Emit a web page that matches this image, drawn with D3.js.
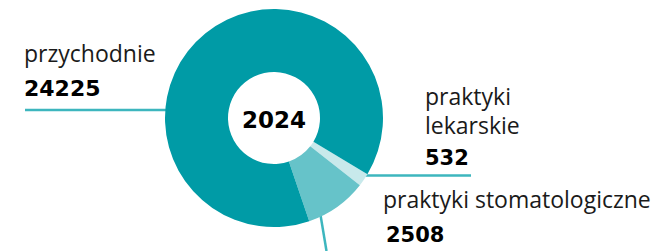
<!DOCTYPE html>
<html>
<head>
<meta charset="utf-8">
<script src="https://cdn.jsdelivr.net/npm/d3@7"></script>
<style>
  html, body { margin: 0; padding: 0; background: #fff; }
  svg { display: block; }
  .lbl { font-family: "Open Sans", sans-serif; font-size: 23px; fill: #1a1a1a; }
  .val { font-family: "DejaVu Sans", sans-serif; font-weight: bold; font-size: 21px; fill: #000; }
</style>
</head>
<body>
<div id="chart"></div>
<script>
// data
const categories = ['praktyki lekarskie', 'praktyki stomatologiczne', 'przychodnie'];
const values = [532, 2508, 24225];
const colors = ['#c8e9eb', '#66c3c9', '#009ba6'];
const year = '2024';

const width = 654, height = 251;
const cx = 274, cy = 118;
const outerR = 109, innerR = 46;

const svg = d3.select('#chart')
  .append('svg')
  .attr('width', width)
  .attr('height', height);

// leader lines sit behind the ring
const lineColor = '#3db6be';
const leaders = [
  [[25, 110], [170, 110]],
  [[360, 175.5], [471, 175.5]],
  [[320, 212], [326.5, 251]]
];
svg.append('g')
  .attr('stroke', lineColor)
  .attr('stroke-width', 2.5)
  .attr('fill', 'none')
  .selectAll('path')
  .data(leaders)
  .enter().append('path')
  .attr('d', d => d3.line()(d));

const start = 121 * Math.PI / 180;
const pie = d3.pie().sort(null).startAngle(start).endAngle(start + 2 * Math.PI);
const arc = d3.arc().innerRadius(innerR).outerRadius(outerR);

svg.append('g')
  .attr('transform', `translate(${cx},${cy})`)
  .selectAll('path')
  .data(pie(values))
  .enter().append('path')
  .attr('d', arc)
  .attr('fill', (d, i) => colors[i]);

svg.append('text')
  .attr('class', 'val')
  .attr('x', cx)
  .attr('y', 127.5)
  .attr('text-anchor', 'middle')
  .style('font-size', '23px')
  .text(year);

// labels
const labels = [
  { lines: ['praktyki', 'lekarskie'], x: 425, y: 105, vx: 425, vy: 164.5, i: 0 },
  { lines: ['praktyki stomatologiczne'], x: 383, y: 208, vx: 386, vy: 242, i: 1 },
  { lines: ['przychodnie'], x: 24, y: 61.5, vx: 24, vy: 96, i: 2 }
];

labels.forEach(l => {
  l.lines.forEach((s, k) => {
    svg.append('text')
      .attr('class', 'lbl')
      .attr('x', l.x)
      .attr('y', l.y + k * 28.5)
      .text(s);
  });
  svg.append('text')
    .attr('class', 'val')
    .attr('x', l.vx)
    .attr('y', l.vy)
    .style('font-size', l.i === 2 ? '22px' : null)
    .text(String(values[l.i]));
});
</script>
</body>
</html>
